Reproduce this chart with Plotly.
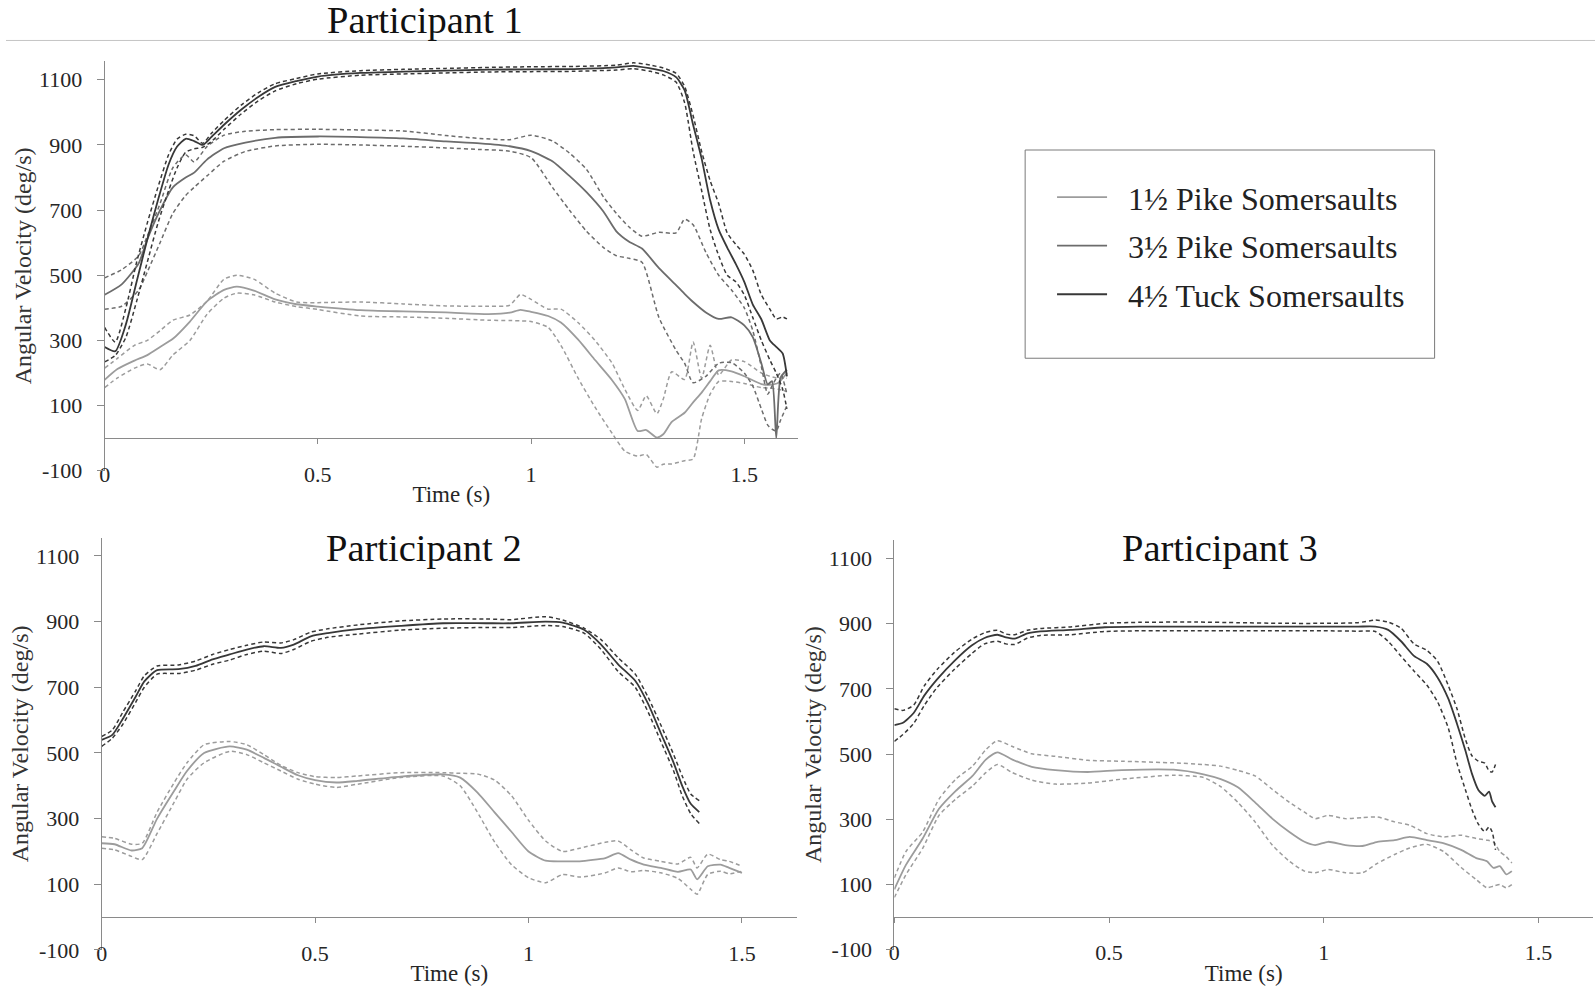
import plotly.graph_objects as go

FONT = "Liberation Serif, Times New Roman, serif"
W, H = 1595, 992

LABELS = ["1½ Pike Somersaults", "3½ Pike Somersaults", "4½ Tuck Somersaults"]
COLORS = ["#9c9c9c", "#6c6c6c", "#383838"]
TITLES = ["Participant 1", "Participant 2", "Participant 3"]
X_TICKS = [0, 0.5, 1, 1.5]
X_TICKTEXT = ["0", "0.5", "1", "1.5"]
Y_TICKS = [-100, 100, 300, 500, 700, 900, 1100]
Y_TICKTEXT = ["-100", "100", "300", "500", "700", "900", "1100"]

# ---------------- Participant 1 ----------------
P1_PIKE15_T = [0, 0.03, 0.07, 0.1, 0.13, 0.16, 0.2, 0.24, 0.28, 0.31,
               0.35, 0.4, 0.45, 0.5, 0.6, 0.7, 0.8, 0.9, 0.95, 0.975,
               1.0, 1.04, 1.07, 1.11, 1.15, 1.19, 1.22, 1.25, 1.27, 1.295,
               1.31, 1.33, 1.36, 1.38, 1.4, 1.42, 1.44, 1.47, 1.5, 1.54,
               1.56, 1.58, 1.60]
P1_PIKE15_MEAN = [179, 212, 238, 255, 280, 305, 358, 420, 455, 465,
                  453, 426, 411, 404, 393, 389, 386, 381, 385, 394,
                  388, 375, 355, 303, 240, 178, 120, 22, 25, 2,
                  12, 50, 78, 110, 140, 175, 208, 205, 190, 166,
                  164, 170, 200]
P1_PIKE15_UP = [215, 245, 285, 300, 330, 362, 378, 420, 488, 500,
                488, 445, 418, 416, 418, 412, 406, 405, 408, 441,
                426, 396, 396, 355, 300, 230, 150, 85, 130, 75,
                120, 204, 180, 295, 184, 285, 194, 240, 235, 200,
                190, 184, 184]
P1_PIKE15_LO = [155, 185, 215, 228, 210, 255, 300, 380, 430, 445,
                440, 418, 404, 395, 375, 372, 368, 362, 361, 360,
                358, 340, 285, 185, 95, 15, -40, -55, -50, -89,
                -80, -79, -69, -64, 60, 135, 174, 174, 168, 155,
                154, 150, 143]

P1_PIKE35_T = [0, 0.04, 0.08, 0.1, 0.13, 0.16, 0.19, 0.21, 0.24, 0.28,
               0.33, 0.4, 0.5, 0.6, 0.7, 0.8, 0.88, 0.95, 1.0, 1.05,
               1.09, 1.13, 1.17, 1.2, 1.23, 1.26, 1.3, 1.34, 1.36, 1.38,
               1.41, 1.44, 1.47, 1.5, 1.52, 1.54, 1.555, 1.565, 1.575, 1.585,
               1.60]
P1_PIKE35_MEAN = [440, 472, 537, 610, 700, 770, 800, 815, 855, 890,
                  907, 922, 926, 924, 920, 911, 905, 896, 881, 850,
                  805, 755, 695, 635, 603, 582, 522, 470, 443, 418,
                  386, 366, 371, 346, 310, 230, 165, 175, 0, 185,
                  210]
P1_PIKE35_UP = [492, 517, 560, 620, 720, 830, 870, 848, 895, 930,
                942, 947, 948, 946, 943, 929, 920, 916, 930, 912,
                875, 825, 740, 690, 648, 620, 632, 630, 672, 655,
                570, 500, 455, 400, 330, 220, 135, 160, 184, 200,
                135]
P1_PIKE35_LO = [396, 405, 455, 510, 600, 690, 745, 770, 805, 850,
                880, 897, 902, 900, 896, 891, 886, 881, 861, 770,
                700, 635, 585, 560, 552, 540, 370, 270, 230, 170,
                190, 230, 232, 200, 160, 90, 40, 28, 22, 55,
                100]

P1_TUCK_T = [0, 0.025, 0.05, 0.075, 0.1, 0.125, 0.15, 0.17, 0.19, 0.21,
             0.23, 0.25, 0.28, 0.32, 0.36, 0.4, 0.45, 0.5, 0.6, 0.7,
             0.8, 0.9, 1.0, 1.1, 1.2, 1.24, 1.28, 1.31, 1.34, 1.36,
             1.38, 1.40, 1.42, 1.44, 1.46, 1.48, 1.50, 1.52, 1.54, 1.56,
             1.575, 1.59, 1.60]
P1_TUCK_MEAN = [280, 267, 350, 480, 610, 730, 840, 895, 919, 912,
                900, 924, 962, 1008, 1047, 1078, 1096, 1110, 1121, 1125,
                1128, 1131, 1132, 1133, 1138, 1143, 1135, 1127, 1108, 1068,
                962, 858, 730, 640, 585, 535, 480, 410, 365, 300,
                280, 260, 190]
P1_TUCK_UP = [340, 295, 400, 540, 660, 770, 870, 918, 933, 928,
              905, 935, 975, 1022, 1060, 1088, 1104, 1118, 1128, 1132,
              1135, 1138, 1140, 1141, 1145, 1152, 1145, 1136, 1120, 1080,
              990, 880, 790, 720, 630, 595, 565, 515, 440, 396,
              366, 372, 366]
P1_TUCK_LO = [234, 254, 310, 420, 540, 660, 760, 830, 878, 888,
              893, 910, 948, 995, 1035, 1066, 1088, 1102, 1114, 1118,
              1121, 1124, 1125, 1126, 1130, 1134, 1126, 1115, 1093, 1030,
              880, 760, 640, 560, 500, 480, 440, 370, 300, 240,
              200, 150, 90]

# ---------------- Participant 2 ----------------
P2_PIKE15_T = [0, 0.03, 0.07, 0.095, 0.13, 0.17, 0.2, 0.24, 0.3, 0.34,
               0.38, 0.42, 0.46, 0.5, 0.55, 0.6, 0.7, 0.8, 0.84, 0.88,
               0.92, 0.96, 1.0, 1.04, 1.08, 1.12, 1.18, 1.21, 1.24, 1.27,
               1.31, 1.35, 1.38, 1.395, 1.42, 1.45, 1.47, 1.5]
P2_PIKE15_MEAN = [225, 222, 203, 210, 300, 385, 445, 500, 520, 510,
                  485, 458, 432, 417, 410, 415, 428, 435, 425, 380,
                  320, 260, 200, 172, 170, 170, 180, 195, 175, 160,
                  150, 138, 145, 115, 155, 160, 150, 135]
P2_PIKE15_UP = [245, 240, 222, 225, 320, 410, 470, 525, 535, 525,
                495, 462, 440, 428, 425, 430, 440, 440, 438, 436,
                418, 370, 295, 232, 200, 210, 228, 232, 205, 180,
                170, 162, 182, 150, 192, 175, 170, 155]
P2_PIKE15_LO = [210, 205, 185, 175, 255, 350, 420, 470, 505, 495,
                470, 445, 420, 405, 395, 405, 425, 430, 400, 320,
                230, 160, 120, 105, 130, 122, 135, 150, 138, 142,
                135, 118, 85, 70, 130, 140, 132, 140]

P2_TUCK_T = [0, 0.025, 0.05, 0.08, 0.1, 0.13, 0.18, 0.22, 0.26, 0.3,
             0.34, 0.38, 0.42, 0.45, 0.49, 0.53, 0.6, 0.7, 0.8, 0.9,
             0.96, 1.04, 1.08, 1.13, 1.17, 1.21, 1.25, 1.28, 1.31, 1.34,
             1.36, 1.38, 1.40]
P2_TUCK_MEAN = [540, 555, 605, 672, 718, 752, 755, 765, 785, 800,
                815, 825, 820, 830, 855, 865, 877, 887, 895, 895,
                895, 900, 897, 875, 830, 770, 720, 650, 560, 470,
                400, 345, 320]
P2_TUCK_UP = [550, 570, 625, 690, 735, 765, 768, 780, 800, 815,
              828, 838, 835, 845, 868, 878, 890, 902, 908, 908,
              906, 915, 905, 880, 845, 790, 740, 670, 585, 495,
              430, 375, 355]
P2_TUCK_LO = [520, 545, 588, 655, 700, 740, 742, 752, 770, 783,
              800, 810, 803, 815, 840, 852, 862, 874, 880, 882,
              882, 888, 885, 865, 815, 748, 700, 625, 535, 445,
              370, 315, 285]

# ---------------- Participant 3 ----------------
P3_PIKE15_T = [0, 0.027, 0.066, 0.104, 0.143, 0.182, 0.213, 0.24, 0.275, 0.32,
               0.375, 0.45, 0.53, 0.65, 0.72, 0.76, 0.8, 0.84, 0.88, 0.92,
               0.955, 0.98, 1.01, 1.05, 1.09, 1.125, 1.165, 1.2, 1.24, 1.28,
               1.32, 1.355, 1.38, 1.395, 1.41, 1.425, 1.438]
P3_PIKE15_MEAN = [85, 160, 241, 332, 387, 433, 483, 505, 483, 461,
                  451, 445, 451, 452, 438, 423, 398, 352, 302, 261,
                  231, 221, 231, 221, 218, 231, 236, 246, 236, 226,
                  206, 181, 171, 151, 156, 131, 141]
P3_PIKE15_UP = [120, 201, 261, 362, 423, 463, 513, 541, 523, 501,
                493, 481, 478, 473, 468, 463, 450, 433, 392, 352,
                322, 302, 312, 302, 305, 307, 292, 282, 256, 246,
                251, 241, 236, 231, 201, 185, 166]
P3_PIKE15_LO = [60, 130, 211, 312, 362, 402, 443, 468, 443, 420,
                408, 411, 423, 435, 428, 400, 352, 292, 221, 171,
                141, 136, 146, 136, 136, 165, 192, 212, 223, 200,
                152, 115, 90, 95, 100, 90, 100]

P3_TUCK_T = [0, 0.02, 0.045, 0.07, 0.1, 0.14, 0.18, 0.21, 0.24, 0.26,
             0.28, 0.31, 0.34, 0.41, 0.49, 0.57, 0.7, 0.8, 0.9, 1.0,
             1.08, 1.12, 1.15, 1.18, 1.21, 1.24, 1.265, 1.29, 1.31, 1.33,
             1.345, 1.36, 1.375, 1.385, 1.392, 1.40]
P3_TUCK_MEAN = [589, 596, 626, 680, 730, 786, 833, 856, 866, 858,
                854, 870, 876, 881, 889, 891, 891, 891, 891, 891,
                891, 891, 881, 846, 801, 777, 735, 670, 594, 510,
                440, 390, 372, 385, 355, 337]
P3_TUCK_UP = [639, 634, 650, 710, 760, 812, 852, 872, 880, 868,
              866, 880, 885, 890, 901, 904, 905, 903, 901, 901,
              903, 911, 905, 886, 838, 818, 785, 710, 640, 545,
              495, 478, 472, 448, 445, 468]
P3_TUCK_LO = [539, 560, 594, 650, 705, 760, 808, 838, 846, 838,
              836, 856, 864, 866, 876, 878, 878, 878, 878, 878,
              877, 876, 846, 800, 755, 712, 660, 580, 473, 390,
              330, 285, 262, 277, 262, 206]

# (condition index, time, mean, +SD, -SD) for each panel
PANEL_SERIES = [
    [(0, P1_PIKE15_T, P1_PIKE15_MEAN, P1_PIKE15_UP, P1_PIKE15_LO),
     (1, P1_PIKE35_T, P1_PIKE35_MEAN, P1_PIKE35_UP, P1_PIKE35_LO),
     (2, P1_TUCK_T, P1_TUCK_MEAN, P1_TUCK_UP, P1_TUCK_LO)],
    [(0, P2_PIKE15_T, P2_PIKE15_MEAN, P2_PIKE15_UP, P2_PIKE15_LO),
     (2, P2_TUCK_T, P2_TUCK_MEAN, P2_TUCK_UP, P2_TUCK_LO)],
    [(0, P3_PIKE15_T, P3_PIKE15_MEAN, P3_PIKE15_UP, P3_PIKE15_LO),
     (2, P3_TUCK_T, P3_TUCK_MEAN, P3_TUCK_UP, P3_TUCK_LO)],
]

# plot-area boxes in pixels: left, right, top, bottom, y max, x max
PANEL_BOX = [
    dict(l=99, r=795, t=61.7, b=477, ymax=1158, xmax=1.626),
    dict(l=96, r=794, t=545, b=962.6, ymax=1155, xmax=1.629),
    dict(l=891.7, r=1593, t=546.7, b=962.3, ymax=1158, xmax=1.627),
]
YMIN = -100


def fx(p):
    return p / W


def fy(p):
    return 1 - p / H


fig = go.Figure()

for i, series in enumerate(PANEL_SERIES):
    sfx = "" if i == 0 else str(i + 1)
    for cond, t, mean, up, lo in series:
        col = COLORS[cond]
        for band in (up, lo):
            fig.add_trace(go.Scatter(
                x=t, y=band, mode="lines", xaxis="x" + sfx, yaxis="y" + sfx,
                line=dict(color=col, width=1.5, dash="4px,3px",
                          shape="spline", smoothing=0.6),
                legendgroup=LABELS[cond], showlegend=False, hoverinfo="skip"))
        fig.add_trace(go.Scatter(
            x=t, y=mean, mode="lines", xaxis="x" + sfx, yaxis="y" + sfx,
            # en space keeps a gap between the legend sample and its label
            name="\u2002" + LABELS[cond], legendgroup=LABELS[cond],
            showlegend=(i == 0),
            line=dict(color=col, width=1.8, shape="spline", smoothing=0.6)))

layout_axes = {}
for i, box in enumerate(PANEL_BOX):
    sfx = "" if i == 0 else str(i + 1)
    ydom = [fy(box["b"]), fy(box["t"])]
    zero_px = box["b"] - (0 - YMIN) * (box["b"] - box["t"]) / (box["ymax"] - YMIN)
    layout_axes["xaxis" + sfx] = dict(
        domain=[fx(box["l"]), fx(box["r"])], range=[0, box["xmax"]],
        anchor="free", position=fy(zero_px),
        showline=True, linecolor="#8a8a8a", linewidth=1,
        ticks="outside", ticklen=5, tickcolor="#8a8a8a",
        tickvals=X_TICKS, ticktext=X_TICKTEXT, ticklabelstandoff=11,
        showgrid=False, zeroline=False,
        tickfont=dict(family=FONT, size=22, color="#262626"),
        title=dict(text="Time (s)", standoff=0,
                   font=dict(family=FONT, size=23, color="#262626")))
    layout_axes["yaxis" + sfx] = dict(
        domain=ydom, range=[YMIN, box["ymax"]], anchor="x" + sfx,
        showline=True, linecolor="#8a8a8a", linewidth=1,
        ticks="outside", ticklen=7, tickcolor="#8a8a8a",
        tickvals=Y_TICKS, ticktext=Y_TICKTEXT, ticklabelstandoff=10,
        showgrid=False, zeroline=False,
        tickfont=dict(family=FONT, size=22, color="#262626"),
        title=dict(text="Angular Velocity (deg/s)", standoff=0,
                   font=dict(family=FONT, size=24, color="#333333")))

title_pos = [(420.6, 20.5), (420.0, 555.0), (1218.6, 555.0)]
annotations = [
    dict(text=TITLES[i], x=fx(px), y=fy(py), xref="paper", yref="paper",
         xanchor="center", yanchor="middle", showarrow=False,
         font=dict(family=FONT, size=38.5, color="#111111"))
    for i, (px, py) in enumerate(title_pos)
]

shapes = [
    # thin rule under the first title
    dict(type="line", xref="paper", yref="paper", x0=0, x1=1,
         y0=fy(41), y1=fy(41), line=dict(color="#c4c4c4", width=1)),
    # legend frame
    dict(type="rect", xref="paper", yref="paper",
         x0=fx(1023), x1=fx(1434), y0=fy(363), y1=fy(152),
         line=dict(color="#7a7a7a", width=1)),
]

fig.update_layout(
    width=W, height=H, autosize=False,
    margin=dict(l=0, r=0, t=0, b=0),
    paper_bgcolor="white", plot_bgcolor="white",
    font=dict(family=FONT, color="#222222"),
    annotations=annotations, shapes=shapes,
    legend=dict(x=fx(1050), y=fy(172), xanchor="left", yanchor="top",
                bgcolor="rgba(0,0,0,0)", borderwidth=0,
                font=dict(family=FONT, size=32, color="#222222"),
                itemwidth=50, tracegroupgap=4, traceorder="grouped"),
    **layout_axes,
)

fig.write_html("out.html", config={"displayModeBar": False})
